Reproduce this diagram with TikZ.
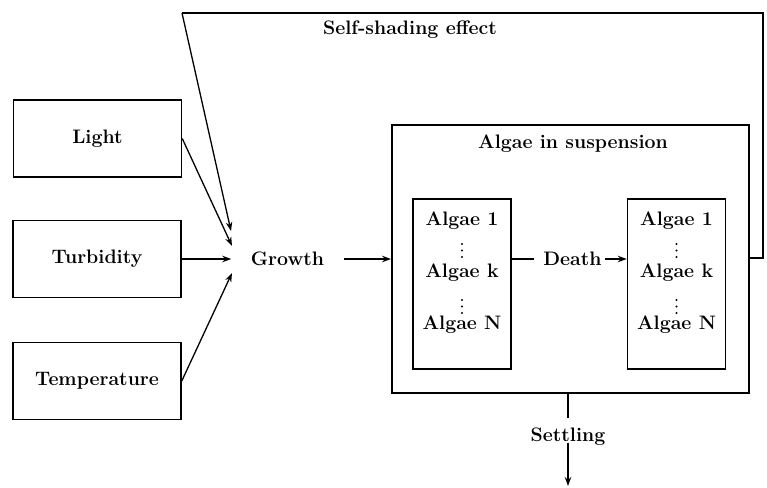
\documentclass[tikz,border=0pt]{standalone}
\usetikzlibrary{arrows.meta}
\begin{document}
\begin{tikzpicture}[x=1pt,y=-1pt,
  font=\fontsize{19.5}{23}\selectfont\bfseries,
  inbox/.style={draw, line width=1.5pt, minimum width=168pt, minimum height=77pt, inner sep=0pt},
  algbox/.style={draw, line width=1.5pt, minimum width=98pt, minimum height=170pt, inner sep=0pt},
  outerbox/.style={draw, line width=2pt, minimum width=357pt, minimum height=268pt, inner sep=0pt},
  lbl/.style={inner sep=0pt},
  dot/.style={fill, circle, inner sep=0pt, minimum size=2.4pt},
  arr/.style={-{Stealth[length=9pt,width=6.5pt]}, line width=1.3pt},
  ln/.style={line width=1.3pt}]
\useasboundingbox (0,0) rectangle (767,487);
% input boxes
\node[inbox] (light) at (97.5,138.5) {Light};
\node[inbox] (turb) at (97,259) {Turbidity};
\node[inbox] (temp) at (97,381) {Temperature};
% growth
\node[lbl, inner xsep=19.5pt] (growth) at (287.5,259) {Growth};
\coordinate (gA) at (231,231);
\coordinate (gB) at (232,246);
\coordinate (gC) at (232,273);
% outer box
\node[outerbox] (outer) at (570.5,259) {};
\node[lbl] (title) at (573,144) {Algae in suspension};
% inner boxes
\node[algbox] (b1) at (462,284) {};
\node[algbox] (b2) at (676.5,284) {};
\foreach \b/\x in {1/462,2/676.5}{
  \node[lbl] (a1\b) at (\x,221) {Algae 1};
  \node[dot] (d1a\b) at (\x,244) {};
  \node[dot] (d1b\b) at (\x,250.5) {};
  \node[dot] (d1c\b) at (\x,257) {};
  \node[lbl] (ak\b) at (\x,273) {Algae k};
  \node[dot] (d2a\b) at (\x,300) {};
  \node[dot] (d2b\b) at (\x,306.5) {};
  \node[dot] (d2c\b) at (\x,313) {};
  \node[lbl] (an\b) at (\x,325) {Algae N};
}
\node[lbl, inner xsep=3pt] (death) at (572.5,259) {Death};
% feedback
\node[lbl] (self) at (410,30) {Self-shading effect};
\coordinate (fbR) at (763,258);
\coordinate (fbTR) at (763,13);
\coordinate (fbTL) at (182,13);
% settling
\node[lbl] (settle) at (568,437) {Settling};
\coordinate (sBot) at (568,486);
% connectors
\draw[arr] (light.east) -- (gB);
\draw[arr] (turb.east) -- (growth.west);
\draw[arr] (temp.east) -- (gC);
\draw[arr] (growth.east) -- (outer.west |- growth.east);
\draw[ln] (b1.east |- death.west) -- ([xshift=-6pt]death.west);
\draw[arr] (death.east) -- (b2.west |- death.east);
\draw[ln] (outer.east |- fbR) -- (fbR) -- (fbTR) -- (fbTL);
\draw[arr] (fbTL) -- (gA);
\draw[ln] (outer.south -| settle) -- (568,418);
\draw[arr] (568,443) -- (sBot);
\end{tikzpicture}
\end{document}
